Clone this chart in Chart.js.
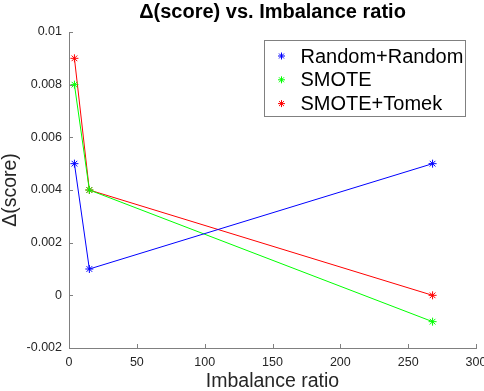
<!DOCTYPE html>
<html>
<head>
<meta charset="utf-8">
<script src="https://cdn.jsdelivr.net/npm/chart.js@4"></script>
<style>
  html, body { margin: 0; padding: 0; background: #fff; }
  #wrap { width: 484px; height: 391px; }
</style>
</head>
<body>
<div id="wrap"><canvas id="chart" width="484" height="391"></canvas></div>
<script>
const ratios = [4, 15, 268];
const randomRandom = [0.005, 0.001, 0.005];
const smote = [0.008, 0.004, -0.001];
const smoteTomek = [0.009, 0.004, 0];
const seriesNames = ['Random+Random', 'SMOTE', 'SMOTE+Tomek'];
const seriesColors = ['#0000ff', '#00ff00', '#ff0000'];

const font = 'Liberation Sans, Arial, Helvetica, sans-serif';
const axisColor = '#808080';
const textColor = '#262626';

function toPoints(ys) {
  return ratios.map((x, i) => ({ x: x, y: ys[i] }));
}

const datasets = [randomRandom, smote, smoteTomek].map((ys, i) => ({
  label: seriesNames[i],
  data: toPoints(ys),
  borderColor: seriesColors[i],
  backgroundColor: seriesColors[i],
  borderWidth: 1,
  pointStyle: 'star',
  pointRadius: 4,
  pointBorderWidth: 1,
  fill: false,
  tension: 0
}));

// inward tick marks, like matlab axes
const innerTicks = {
  id: 'innerTicks',
  afterDatasetsDraw(chart) {
    const ctx = chart.ctx;
    const area = chart.chartArea;
    const xs = chart.scales.x, ys = chart.scales.y;
    ctx.save();
    ctx.strokeStyle = axisColor;
    ctx.lineWidth = 1;
    ctx.beginPath();
    xs.ticks.forEach(t => {
      const px = Math.round(xs.getPixelForValue(t.value)) + 0.5;
      ctx.moveTo(px, area.bottom);
      ctx.lineTo(px, area.bottom - 4);
    });
    ys.ticks.forEach(t => {
      const py = Math.round(ys.getPixelForValue(t.value)) + 0.5;
      ctx.moveTo(area.left, py);
      ctx.lineTo(area.left + 4, py);
    });
    ctx.stroke();
    ctx.restore();
  }
};

// legend box in the upper right of the axes
const boxLegend = {
  id: 'boxLegend',
  afterDraw(chart) {
    const ctx = chart.ctx;
    const area = chart.chartArea;
    const w = 201, h = 76;
    const x0 = Math.round(area.right - 11 - w) + 0.5;
    const y0 = Math.round(area.top + 8) + 0.5;
    ctx.save();
    ctx.fillStyle = '#fff';
    ctx.fillRect(x0, y0, w, h);
    ctx.strokeStyle = axisColor;
    ctx.lineWidth = 1;
    ctx.strokeRect(x0, y0, w, h);
    ctx.font = '20px ' + font;
    ctx.textBaseline = 'middle';
    ctx.textAlign = 'left';
    chart.data.datasets.forEach((ds, i) => {
      const cy = y0 + 15.5 + i * 23.8;
      ctx.strokeStyle = ds.borderColor;
      ctx.fillStyle = ds.borderColor;
      Chart.helpers.drawPoint(ctx, { pointStyle: 'star', radius: 3.5, borderWidth: 1, rotation: 0 }, x0 + 17, cy);
      ctx.fillStyle = '#000';
      ctx.fillText(ds.label, x0 + 36, cy + 1);
    });
    ctx.restore();
  }
};

new Chart(document.getElementById('chart'), {
  type: 'line',
  data: { datasets: datasets },
  options: {
    responsive: false,
    animation: false,
    layout: { padding: { left: 0, right: 0, top: 0, bottom: 0 } },
    plugins: {
      legend: { display: false },
      tooltip: { enabled: false },
      title: {
        display: true,
        text: '\u0394(score) vs. Imbalance ratio',
        fullSize: false,
        color: '#000',
        font: { family: font, size: 20, weight: 'bold', lineHeight: 1.2 },
        padding: { top: 0, bottom: 8 }
      }
    },
    scales: {
      x: {
        type: 'linear',
        min: 0,
        max: 300,
        ticks: { stepSize: 50, color: textColor, padding: 7, maxRotation: 0, font: { family: font, size: 12.5 } },
        grid: { display: false, drawTicks: false },
        border: { display: true, color: axisColor, width: 1 },
        title: {
          display: true,
          text: 'Imbalance ratio',
          color: textColor,
          font: { family: font, size: 19.5, lineHeight: 1 },
          padding: 0
        },
        afterFit(scale) {
          scale.height = 43;
          scale.paddingRight = 8;
          scale.paddingLeft = 0;
        }
      },
      y: {
        type: 'linear',
        min: -0.002,
        max: 0.01,
        ticks: {
          stepSize: 0.002,
          color: textColor,
          padding: 7,
          font: { family: font, size: 12.5 },
          callback: v => String(+v.toFixed(3))
        },
        grid: { display: false, drawTicks: false },
        border: { display: true, color: axisColor, width: 1 },
        title: {
          display: true,
          text: '\u0394(score)',
          color: textColor,
          font: { family: font, size: 19.5, lineHeight: 1 },
          padding: { top: 1, bottom: 0 }
        },
        afterFit(scale) {
          scale.width = 69;
          scale.paddingTop = 0;
          scale.paddingBottom = 0;
        }
      }
    }
  },
  plugins: [innerTicks, boxLegend]
});
</script>
</body>
</html>
